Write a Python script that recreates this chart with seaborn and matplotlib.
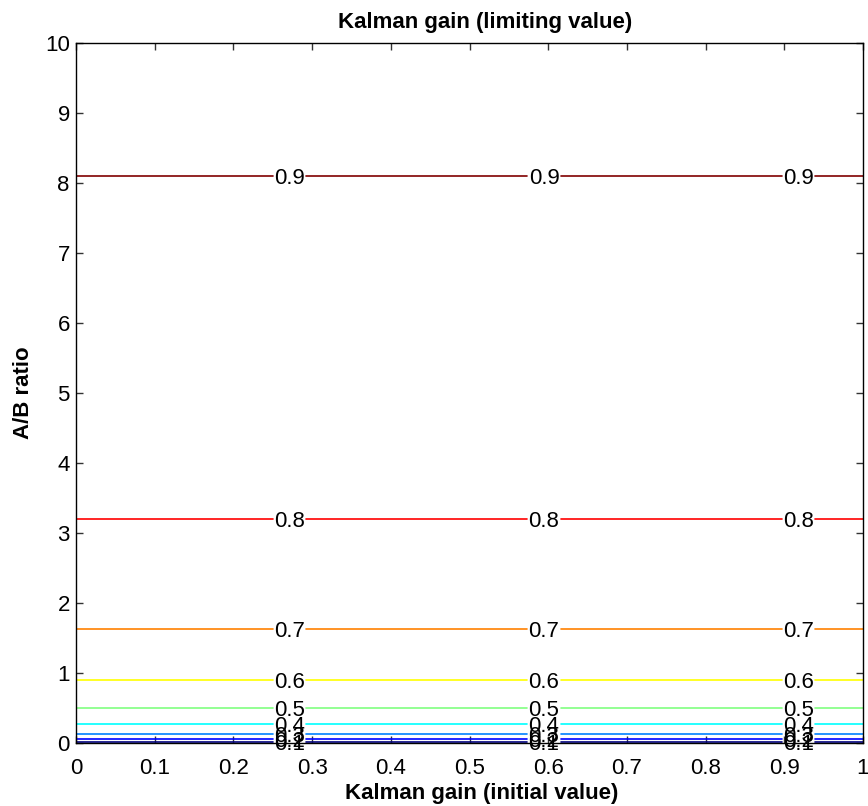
import numpy as np
import pandas as pd
import matplotlib
matplotlib.use("Agg")
import matplotlib.pyplot as plt
import seaborn as sns

# Contour levels of the limiting Kalman gain and the A/B ratio at which each occurs
gain_levels = [0.1, 0.2, 0.3, 0.4, 0.5, 0.6, 0.7, 0.8, 0.9]
ab_ratio = [0.011, 0.05, 0.129, 0.267, 0.5, 0.9, 1.633, 3.2, 8.1]
level_colors = ["#000080", "#0000FF", "#0080FF", "#00FFFF", "#80FF80",
                "#FFFF00", "#FF8000", "#FF0000", "#800000"]
level_labels = ["0.1", "0.2", "0.3", "0.4", "0.5", "0.6", "0.7", "0.8", "0.9"]

x_ticks = [0, 0.1, 0.2, 0.3, 0.4, 0.5, 0.6, 0.7, 0.8, 0.9, 1]
x_tick_labels = ["0", "0.1", "0.2", "0.3", "0.4", "0.5", "0.6", "0.7", "0.8", "0.9", "1"]
y_ticks = [0, 1, 2, 3, 4, 5, 6, 7, 8, 9, 10]

# inline label placement along each contour
label_x = [0.2713, 0.5947, 0.918]
half_gap = 0.021
FS = 16

sns.set_style("ticks")
plt.rcParams["font.family"] = ["Liberation Sans", "DejaVu Sans"]
plt.rcParams.update({"text.color": "black", "axes.labelcolor": "black",
                     "xtick.labelcolor": "black", "ytick.labelcolor": "black"})

# break each contour line around its labels
rows = []
edges = [0.0]
for cx in label_x:
    edges += [cx - half_gap, cx + half_gap]
edges.append(1.0)
for lvl, yv in zip(gain_levels, ab_ratio):
    for s in range(len(edges) // 2):
        seg = f"{lvl}-{s}"
        for xv in (edges[2 * s], edges[2 * s + 1]):
            rows.append({"x": xv, "y": yv, "level": lvl, "seg": seg})
df = pd.DataFrame(rows)

fig = plt.figure(figsize=(8.68, 8.06), dpi=100)
ax = fig.add_axes([0.0876, 0.0782, 0.9066, 0.8685])

palette = dict(zip(gain_levels, level_colors))
sns.lineplot(data=df, x="x", y="y", hue="level", units="seg", estimator=None,
             palette=palette, sort=False, legend=False, linewidth=1.2, ax=ax)

# labels: digits centred on their contour line
for lab, yv in zip(level_labels, ab_ratio):
    for cx in label_x:
        ax.annotate(lab, (cx, yv), xytext=(0, -0.36 * FS), textcoords="offset points",
                    ha="center", va="baseline", fontsize=FS, color="black")

ax.set_xlim(0, 1)
ax.set_ylim(0, 10)
ax.set_xticks(x_ticks)
ax.set_xticklabels(x_tick_labels)
ax.set_yticks(y_ticks)
ax.tick_params(direction="in", length=5, width=1, top=True, right=True,
               labelsize=FS, color="#333333", labelcolor="black")
ax.tick_params(axis="x", pad=10.5)
ax.tick_params(axis="y", pad=4.5)
for sp in ax.spines.values():
    sp.set_visible(True)
    sp.set_linewidth(1.0)
    sp.set_color("black")

ax.set_title("Kalman gain (limiting value)", fontweight="bold", fontsize=FS, pad=11,
             x=0.52, color="black")
ax.set_xlabel("Kalman gain (initial value)", fontweight="bold", fontsize=FS, color="black")
ax.xaxis.set_label_coords(0.515, -0.057)
ax.xaxis.label.set_verticalalignment("top")
ax.set_ylabel("A/B ratio", fontweight="bold", fontsize=FS, labelpad=8, color="black")

fig.savefig("out.png", dpi=100)
